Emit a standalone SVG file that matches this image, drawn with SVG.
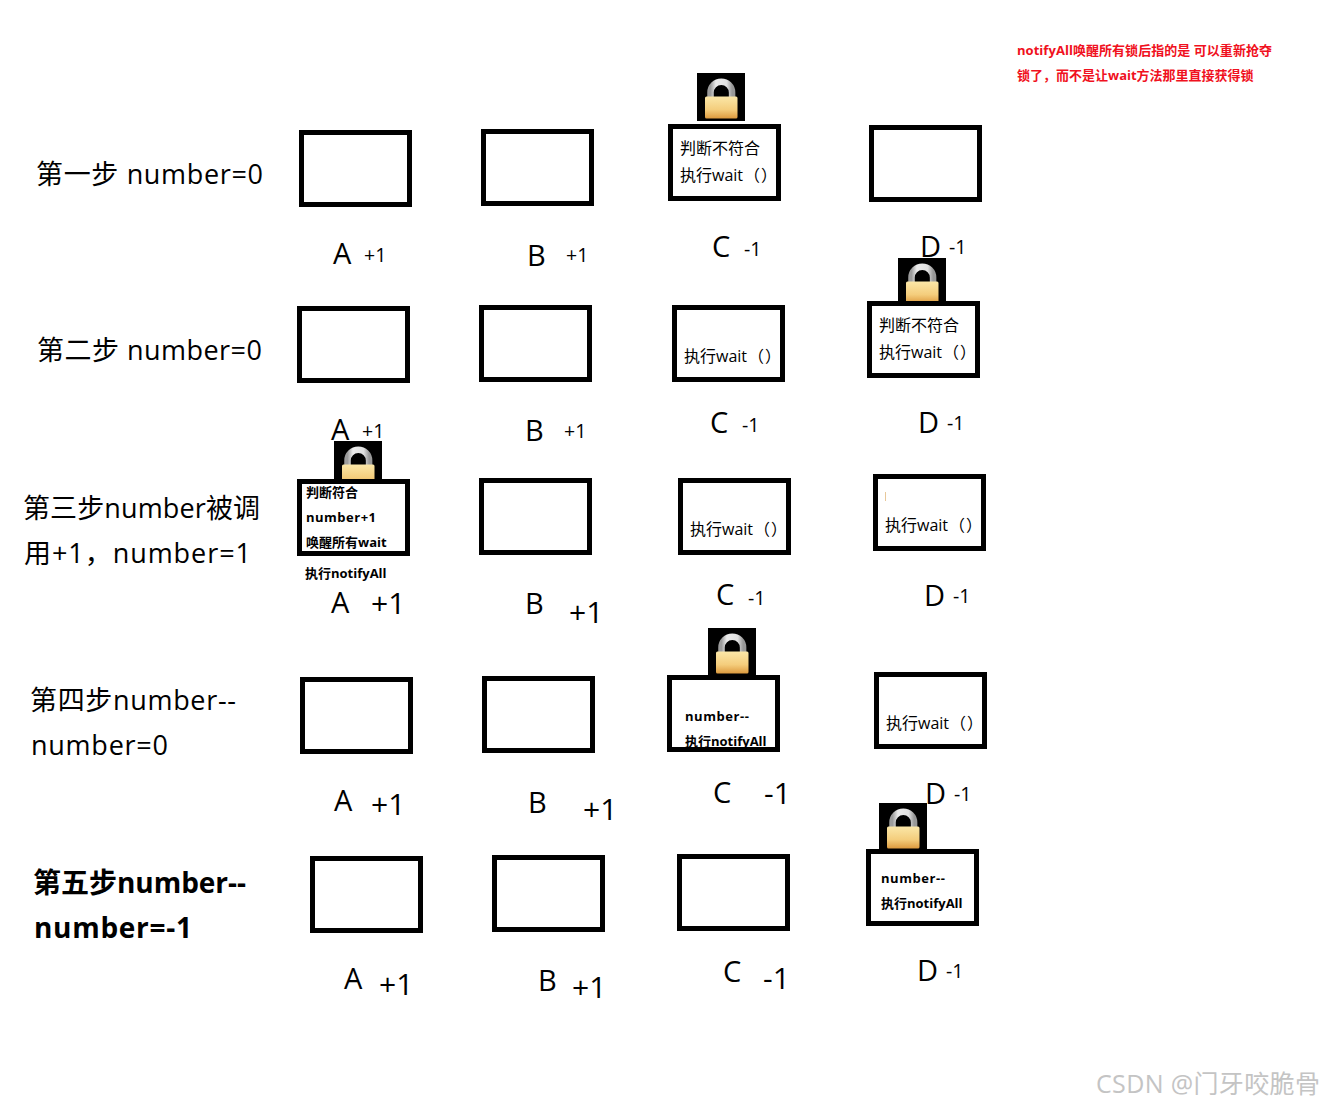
<svg xmlns="http://www.w3.org/2000/svg" width="1324" height="1105" viewBox="0 0 1324 1105">
<style>
text{font-family:"Open Sans","Noto Sans CJK SC","Noto Sans",sans-serif;fill:#000}
.step{font-size:27px}
.stepb{font-size:28px;font-weight:700}
.l{font-size:29px}
.p{font-size:30px}
.s{font-size:19.500px}
.t{font-size:16px}
.b{font-size:13px;font-weight:700}
.r{font-size:13px;font-weight:700;fill:#f01020}
.box{fill:none;stroke:#000;stroke-width:5}
.wm{font-size:25px;fill:#c4c4c4}
</style>
<defs>
<linearGradient id="body" x1="0" y1="0" x2="0" y2="1"><stop offset="0" stop-color="#fbe7a8"/><stop offset="0.6" stop-color="#f4cd7c"/><stop offset="1" stop-color="#dd9a3e"/></linearGradient>
<linearGradient id="shackle" x1="0" y1="0" x2="1" y2="0"><stop offset="0" stop-color="#9c9c9c"/><stop offset="0.25" stop-color="#ececec"/><stop offset="0.75" stop-color="#e0e0e0"/><stop offset="1" stop-color="#989898"/></linearGradient>
<g id="lock">
<rect width="48" height="48" fill="#000"/>
<path d="M13.500 24V19.500a10.800 10.800 0 0 1 21.600 0V24" fill="none" stroke="url(#shackle)" stroke-width="6.500"/>
<rect x="8" y="23.500" width="32.500" height="22" rx="1.500" fill="url(#body)"/>
</g>
</defs>
<g id="connectors"/>

<g id="note"><text class="r" x="1017" y="55" textLength="255">notifyAll唤醒所有锁后指的是 可以重新抢夺</text><text class="r" x="1017" y="80">锁了，而不是让wait方法那里直接获得锁</text></g>

<g id="row1">
<text class="step" x="36" y="184" textLength="227">第一步 number=0</text>
<g id="r1a"><rect class="box" x="301.500" y="132.500" width="108" height="72"/><text class="l" x="333" y="264">A</text><text class="s" x="364" y="262">+1</text></g>
<g id="r1b"><rect class="box" x="483.500" y="131.500" width="108" height="72"/><text class="l" x="527" y="266">B</text><text class="s" x="566" y="262">+1</text></g>
<g id="r1c"><use href="#lock" x="697" y="73"/><rect class="box" x="670.500" y="126.500" width="108" height="72"/><text class="t" x="680" y="154">判断不符合</text><text class="t" x="680" y="181">执行wait<tspan dx="1">（</tspan><tspan dx="1">）</tspan></text><text class="l" x="712" y="257">C</text><text class="s" x="744" y="256">-1</text></g>
<g id="r1d"><rect class="box" x="871.500" y="127.500" width="108" height="72"/><text class="l" x="920" y="257">D</text><text class="s" x="949" y="254">-1</text></g>
</g>

<g id="row2">
<text class="step" x="37" y="360" textLength="225">第二步 number=0</text>
<g id="r2a"><rect class="box" x="299.500" y="308.500" width="108" height="72"/><text class="l" x="331" y="440">A</text><text class="s" x="362" y="438">+1</text></g>
<g id="r2b"><rect class="box" x="481.500" y="307.500" width="108" height="72"/><text class="l" x="525" y="441">B</text><text class="s" x="564" y="438">+1</text></g>
<g id="r2c"><rect class="box" x="674.500" y="307.500" width="108" height="72"/><text class="t" x="684" y="362">执行wait<tspan dx="1">（</tspan><tspan dx="1">）</tspan></text><text class="l" x="710" y="433">C</text><text class="s" x="742" y="432">-1</text></g>
<g id="r2d"><use href="#lock" x="898" y="258"/><rect class="box" x="869.500" y="303.500" width="108" height="72"/><text class="t" x="879" y="331">判断不符合</text><text class="t" x="879" y="358">执行wait<tspan dx="1">（</tspan><tspan dx="1">）</tspan></text><text class="l" x="918" y="433">D</text><text class="s" x="947" y="430">-1</text></g>
</g>

<g id="row3">
<text class="step" x="23" y="518" textLength="237">第三步number被调</text><text class="step" x="24" y="563" textLength="227">用+1，number=1</text>
<g id="r3a"><use href="#lock" x="334" y="441"/><rect x="302" y="484" width="103" height="67" fill="#fff"/><rect class="box" x="299.500" y="481.500" width="108" height="72"/><text class="b" x="306" y="497">判断符合</text><text class="b" x="306" y="522" textLength="70">number+1</text><text class="b" x="306" y="547">唤醒所有wait</text><text class="b" x="305" y="578">执行notifyAll</text><text class="l" x="331" y="613">A</text><text class="p" x="371" y="614">+1</text></g>
<g id="r3b"><rect class="box" x="481.500" y="480.500" width="108" height="72"/><text class="l" x="525" y="614">B</text><text class="p" x="569" y="623">+1</text></g>
<g id="r3c"><rect class="box" x="680.500" y="480.500" width="108" height="72"/><text class="t" x="690" y="535">执行wait<tspan dx="1">（</tspan><tspan dx="1">）</tspan></text><text class="l" x="716" y="605">C</text><text class="s" x="748" y="605">-1</text></g>
<g id="r3d"><rect x="913" y="474" width="31" height="1" fill="#d98a3c"/><rect class="box" x="875.500" y="476.500" width="108" height="72"/><rect x="885" y="492" width="1" height="9" fill="#e8c89a"/><text class="t" x="885" y="531">执行wait<tspan dx="1">（</tspan><tspan dx="1">）</tspan></text><text class="l" x="924" y="606">D</text><text class="s" x="953" y="603">-1</text></g>
</g>

<g id="row4">
<text class="step" x="30" y="710" textLength="206">第四步number--</text><text class="step" x="31" y="755" textLength="137">number=0</text>
<g id="r4a"><rect class="box" x="302.500" y="679.500" width="108" height="72"/><text class="l" x="334" y="811">A</text><text class="p" x="371" y="815">+1</text></g>
<g id="r4b"><rect class="box" x="484.500" y="678.500" width="108" height="72"/><text class="l" x="528" y="813">B</text><text class="p" x="583" y="820">+1</text></g>
<g id="r4c"><use href="#lock" x="708" y="628"/><rect x="670" y="680" width="107" height="67" fill="#fff"/><text class="b" x="685" y="721" textLength="64">number--</text><text class="b" x="685" y="746">执行notifyAll</text><rect class="box" x="669.500" y="677.500" width="108" height="72"/><text class="l" x="713" y="803">C</text><text class="p" x="764" y="804">-1</text></g>
<g id="r4d"><rect x="914" y="672" width="31" height="1" fill="#d98a3c"/><rect class="box" x="876.500" y="674.500" width="108" height="72"/><text class="t" x="886" y="729">执行wait<tspan dx="1">（</tspan><tspan dx="1">）</tspan></text><text class="l" x="925" y="804">D</text><text class="s" x="954" y="801">-1</text></g>
</g>

<g id="row5">
<text class="stepb" x="33" y="893" textLength="213">第五步number--</text><text class="stepb" x="34" y="938" textLength="158">number=-1</text>
<g id="r5a"><rect class="box" x="312.500" y="858.500" width="108" height="72"/><text class="l" x="344" y="989">A</text><text class="p" x="379" y="995">+1</text></g>
<g id="r5b"><rect class="box" x="494.500" y="857.500" width="108" height="72"/><text class="l" x="538" y="991">B</text><text class="p" x="572" y="998">+1</text></g>
<g id="r5c"><rect class="box" x="679.500" y="856.500" width="108" height="72"/><text class="l" x="723" y="982">C</text><text class="p" x="763" y="989">-1</text></g>
<g id="r5d"><use href="#lock" x="879" y="803"/><rect class="box" x="868.500" y="851.500" width="108" height="72"/><text class="b" x="881" y="883" textLength="64">number--</text><text class="b" x="881" y="908">执行notifyAll</text><text class="l" x="917" y="981">D</text><text class="s" x="946" y="978">-1</text></g>
</g>

<text class="wm" x="1096" y="1093" textLength="224">CSDN @门牙咬脆骨</text>
</svg>
